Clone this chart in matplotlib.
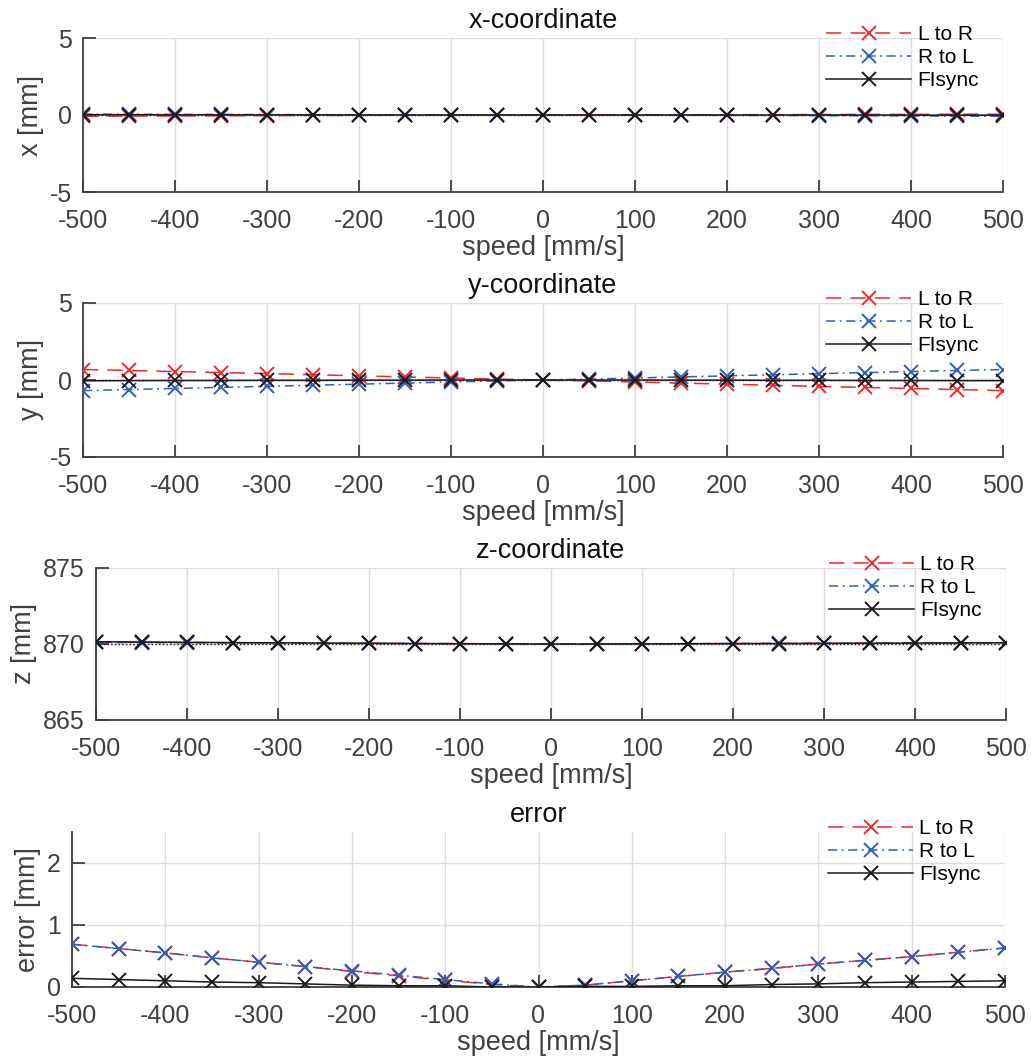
import matplotlib
matplotlib.use("Agg")
import matplotlib.pyplot as plt

plt.rcParams['font.family'] = ['Liberation Sans', 'DejaVu Sans']
plt.rcParams['axes.unicode_minus'] = False

speed = [-500, -450, -400, -350, -300, -250, -200, -150, -100, -50, 0,
         50, 100, 150, 200, 250, 300, 350, 400, 450, 500]
xticks = [-500, -400, -300, -200, -100, 0, 100, 200, 300, 400, 500]

x_LtoR = [-0.08, -0.07, -0.06, -0.05, -0.04, -0.03, -0.02, -0.01, -0.01, 0.0, 0.0,
          0.0, 0.01, 0.01, 0.02, 0.02, 0.03, 0.04, 0.04, 0.05, 0.05]
x_RtoL = [0.05, 0.05, 0.04, 0.04, 0.03, 0.02, 0.02, 0.01, 0.01, 0.0, 0.0,
          0.0, -0.01, -0.01, -0.02, -0.03, -0.04, -0.05, -0.06, -0.07, -0.08]
x_FIsync = [0.02, 0.02, 0.01, 0.01, 0.01, 0.01, 0.0, 0.0, 0.0, 0.0, 0.0,
            0.0, 0.0, 0.0, 0.0, 0.0, 0.0, 0.0, -0.01, -0.01, -0.01]

y_LtoR = [0.68, 0.62, 0.55, 0.48, 0.42, 0.34, 0.27, 0.2, 0.13, 0.06, 0.0,
          -0.06, -0.13, -0.2, -0.27, -0.34, -0.42, -0.48, -0.55, -0.62, -0.69]
y_RtoL = [-0.69, -0.62, -0.55, -0.48, -0.41, -0.34, -0.27, -0.2, -0.13, -0.06, 0.0,
          0.06, 0.13, 0.2, 0.27, 0.34, 0.41, 0.48, 0.55, 0.62, 0.68]
y_FIsync = [-0.05, -0.04, -0.03, -0.03, -0.02, -0.02, -0.01, -0.01, 0.0, 0.0, 0.0,
            0.0, 0.0, -0.01, -0.01, -0.02, -0.02, -0.03, -0.03, -0.04, -0.04]

z_LtoR = [870.12, 870.11, 870.1, 870.08, 870.07, 870.06, 870.04, 870.03, 870.02, 870.01, 870.0,
          870.0, 870.01, 870.02, 870.02, 870.03, 870.04, 870.05, 870.06, 870.06, 870.07]
z_RtoL = [870.1, 870.09, 870.08, 870.07, 870.06, 870.05, 870.04, 870.03, 870.02, 870.01, 870.0,
          870.0, 870.01, 870.02, 870.03, 870.04, 870.05, 870.06, 870.07, 870.08, 870.09]
z_FIsync = [870.15, 870.13, 870.11, 870.09, 870.08, 870.06, 870.05, 870.03, 870.02, 870.01, 870.0,
            870.0, 870.01, 870.02, 870.03, 870.03, 870.04, 870.05, 870.06, 870.07, 870.08]

e_LtoR = [0.69, 0.62, 0.55, 0.47, 0.40, 0.33, 0.25, 0.18, 0.11, 0.04, 0.0,
          0.03, 0.10, 0.17, 0.24, 0.30, 0.37, 0.43, 0.49, 0.56, 0.63]
e_RtoL = [0.69, 0.62, 0.55, 0.47, 0.40, 0.33, 0.26, 0.19, 0.12, 0.05, 0.0,
          0.03, 0.10, 0.17, 0.24, 0.30, 0.37, 0.43, 0.49, 0.56, 0.63]
e_FIsync = [0.14, 0.12, 0.10, 0.08, 0.07, 0.05, 0.03, 0.02, 0.02, 0.0, 0.0,
            0.01, 0.01, 0.02, 0.02, 0.04, 0.05, 0.07, 0.08, 0.09, 0.10]

panels = [
    dict(title='x-coordinate', ylabel='x [mm]', ylim=(-5, 5), yticks=[-5, 0, 5], ref=0,
         data=(x_LtoR, x_RtoL, x_FIsync), box=(83, 38, 1003, 192)),
    dict(title='y-coordinate', ylabel='y [mm]', ylim=(-5, 5), yticks=[-5, 0, 5], ref=0,
         data=(y_LtoR, y_RtoL, y_FIsync), box=(83, 303, 1003, 457)),
    dict(title='z-coordinate', ylabel='z [mm]', ylim=(865, 875), yticks=[865, 870, 875], ref=870,
         data=(z_LtoR, z_RtoL, z_FIsync), box=(96, 568, 1006, 720)),
    dict(title='error', ylabel='error [mm]', ylim=(0, 2.5), yticks=[0, 1, 2], ref=0,
         data=(e_LtoR, e_RtoL, e_FIsync), box=(72, 832, 1005, 987)),
]

W, H = 1031, 1059
fig = plt.figure(figsize=(W / 100, H / 100), dpi=100)

red = '#f0282e'
blue = '#2f5fb8'
black = '#1a1a1a'
axcol = '#404040'

for p in panels:
    l, t, r, b = p['box']
    aw, ah = r - l, b - t
    ax = fig.add_axes([l / W, 1 - b / H, aw / W, ah / H])
    lr, rl, fs = p['data']
    ax.plot(speed, [p['ref']] * len(speed), color=black, ls=':', lw=1.0, zorder=1)
    ax.plot(speed, lr, color=red, ls=(0, (10, 6)), lw=1.1, marker='x', ms=10, mew=1.4,
            label='L to R', zorder=3)
    ax.plot(speed, rl, color=blue, ls=(0, (6, 3, 1.2, 3)), lw=1.1, marker='x', ms=10, mew=1.4,
            label='R to L', zorder=4)
    ax.plot(speed, fs, color=black, ls='-', lw=1.1, marker='x', ms=10, mew=1.4,
            label='FIsync', zorder=5)
    ax.set_xlim(-500, 500)
    ax.set_ylim(*p['ylim'])
    ax.set_xticks(xticks)
    ax.set_yticks(p['yticks'])
    ax.grid(True, color='#dcdcdc', lw=1.0)
    ax.set_axisbelow(True)
    for s in ('top', 'right'):
        ax.spines[s].set_visible(False)
    for s in ('left', 'bottom'):
        ax.spines[s].set_color(axcol)
        ax.spines[s].set_linewidth(1.3)
    ax.tick_params(direction='in', length=9, width=1.3, colors=axcol, labelsize=18,
                   labelcolor=axcol)
    ax.tick_params(axis='x', pad=12)
    ax.tick_params(axis='y', pad=8)
    ax.set_xlabel('speed [mm/s]', fontsize=19.5, color=axcol, labelpad=2)
    ax.set_ylabel(p['ylabel'], fontsize=19.5, color=axcol, labelpad=4)
    ax.set_title(p['title'], fontsize=19.5, color='#111111', pad=7)
    ax.legend(loc='upper right', bbox_to_anchor=(1.0 - 24 / aw, 1.0 + 13 / ah),
              frameon=False, fontsize=15, handlelength=4.1, handletextpad=0.3,
              labelspacing=0.2, borderaxespad=0.0, borderpad=0.0)

fig.savefig('out.png', dpi=100)
